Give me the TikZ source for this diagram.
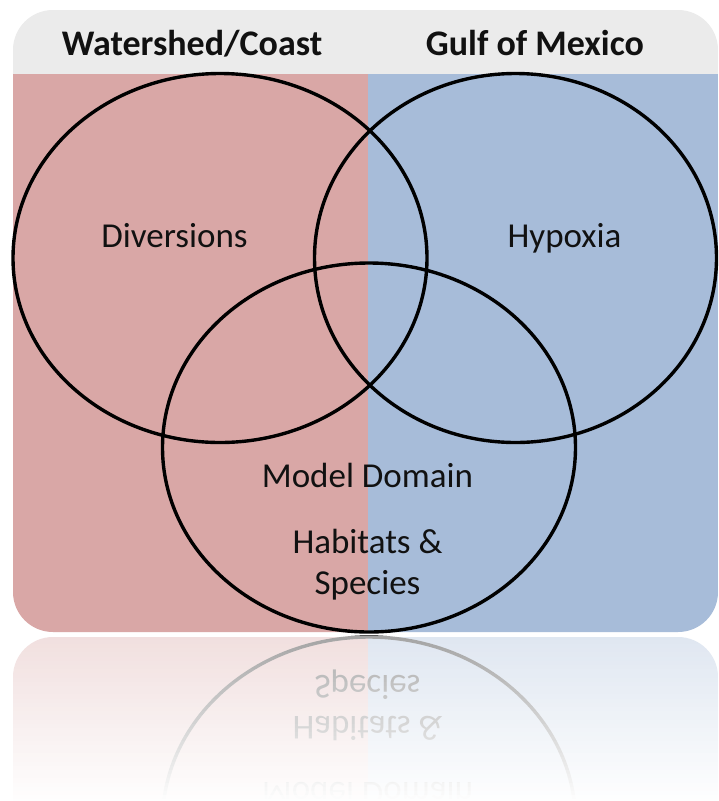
\documentclass[tikz,border=0pt]{standalone}
\usepackage{fontspec}
\setmainfont{Carlito}
\usetikzlibrary{shapes.geometric}
\definecolor{pinkf}{HTML}{D9A7A6}
\definecolor{bluef}{HTML}{A7BCD9}
\definecolor{headf}{HTML}{EBEBEB}
\definecolor{inkc}{HTML}{111111}
\tikzset{
  venn/.style={draw=black, line width=3.4pt},
  hd/.style={anchor=base, inner sep=0pt, font=\fontsize{36}{42}\selectfont\bfseries, text=inkc},
  lbl/.style={anchor=base, inner sep=0pt, font=\fontsize{35}{42}\selectfont, text=inkc},
}
\newcommand\vennshapes[1]{%
  \begin{scope}
    \clip[rounded corners=40] (13,10) rectangle (718,632);
    \fill[headf] (0,0) rectangle (718,74);
    \fill[pinkf] (0,73.5) rectangle (367.5,640);
    \fill[bluef] (367.5,73.5) rectangle (718,640);
  \end{scope}
  \coordinate (cl#1) at (220,258);
  \coordinate (cr#1) at (515.5,258);
  \coordinate (cb#1) at (369,447.5);
  \draw[venn] (cl#1) ellipse [x radius=207, y radius=184.5];
  \draw[venn] (cr#1) ellipse [x radius=201, y radius=184.5];
  \draw[venn] (cb#1) ellipse [x radius=206.5, y radius=184.5];
  \node[lbl] (md#1) at (367.5,487) {Model Domain};
  \node[lbl] (hs#1) at (367.5,553) {Habitats \&};
  \node[lbl] (sp#1) at (367.5,594) {Species};
}
\begin{document}
\begin{tikzpicture}[x=1pt,y=-1pt]
  \useasboundingbox (0,0) rectangle (718,801);
  \fill[white] (0,0) rectangle (718,801);
  % reflection
  \begin{scope}
    \clip (0,635.5) rectangle (718,801);
    \begin{scope}[shift={(0,1269)}, yscale=-1, transform shape]
      \vennshapes{r}
    \end{scope}
    \foreach \i in {0,...,39} {
      \pgfmathsetmacro{\yt}{635.5+\i*4.2}
      \pgfmathsetmacro{\yb}{\yt+4.3}
      \pgfmathsetmacro{\op}{1-0.36*(1-(\i+0.5)/40)}
      \fill[white, fill opacity=\op] (0,\yt) rectangle (718,\yb);
    }
  \end{scope}
  % main diagram
  \vennshapes{m}
  \node[hd] (ws) at (192,55) {Watershed/Coast};
  \node[hd] (gm) at (535,55) {Gulf of Mexico};
  \node[lbl] (dv) at (174.5,247) {Diversions};
  \node[lbl] (hy) at (564.5,247) {Hypoxia};
\end{tikzpicture}
\end{document}
